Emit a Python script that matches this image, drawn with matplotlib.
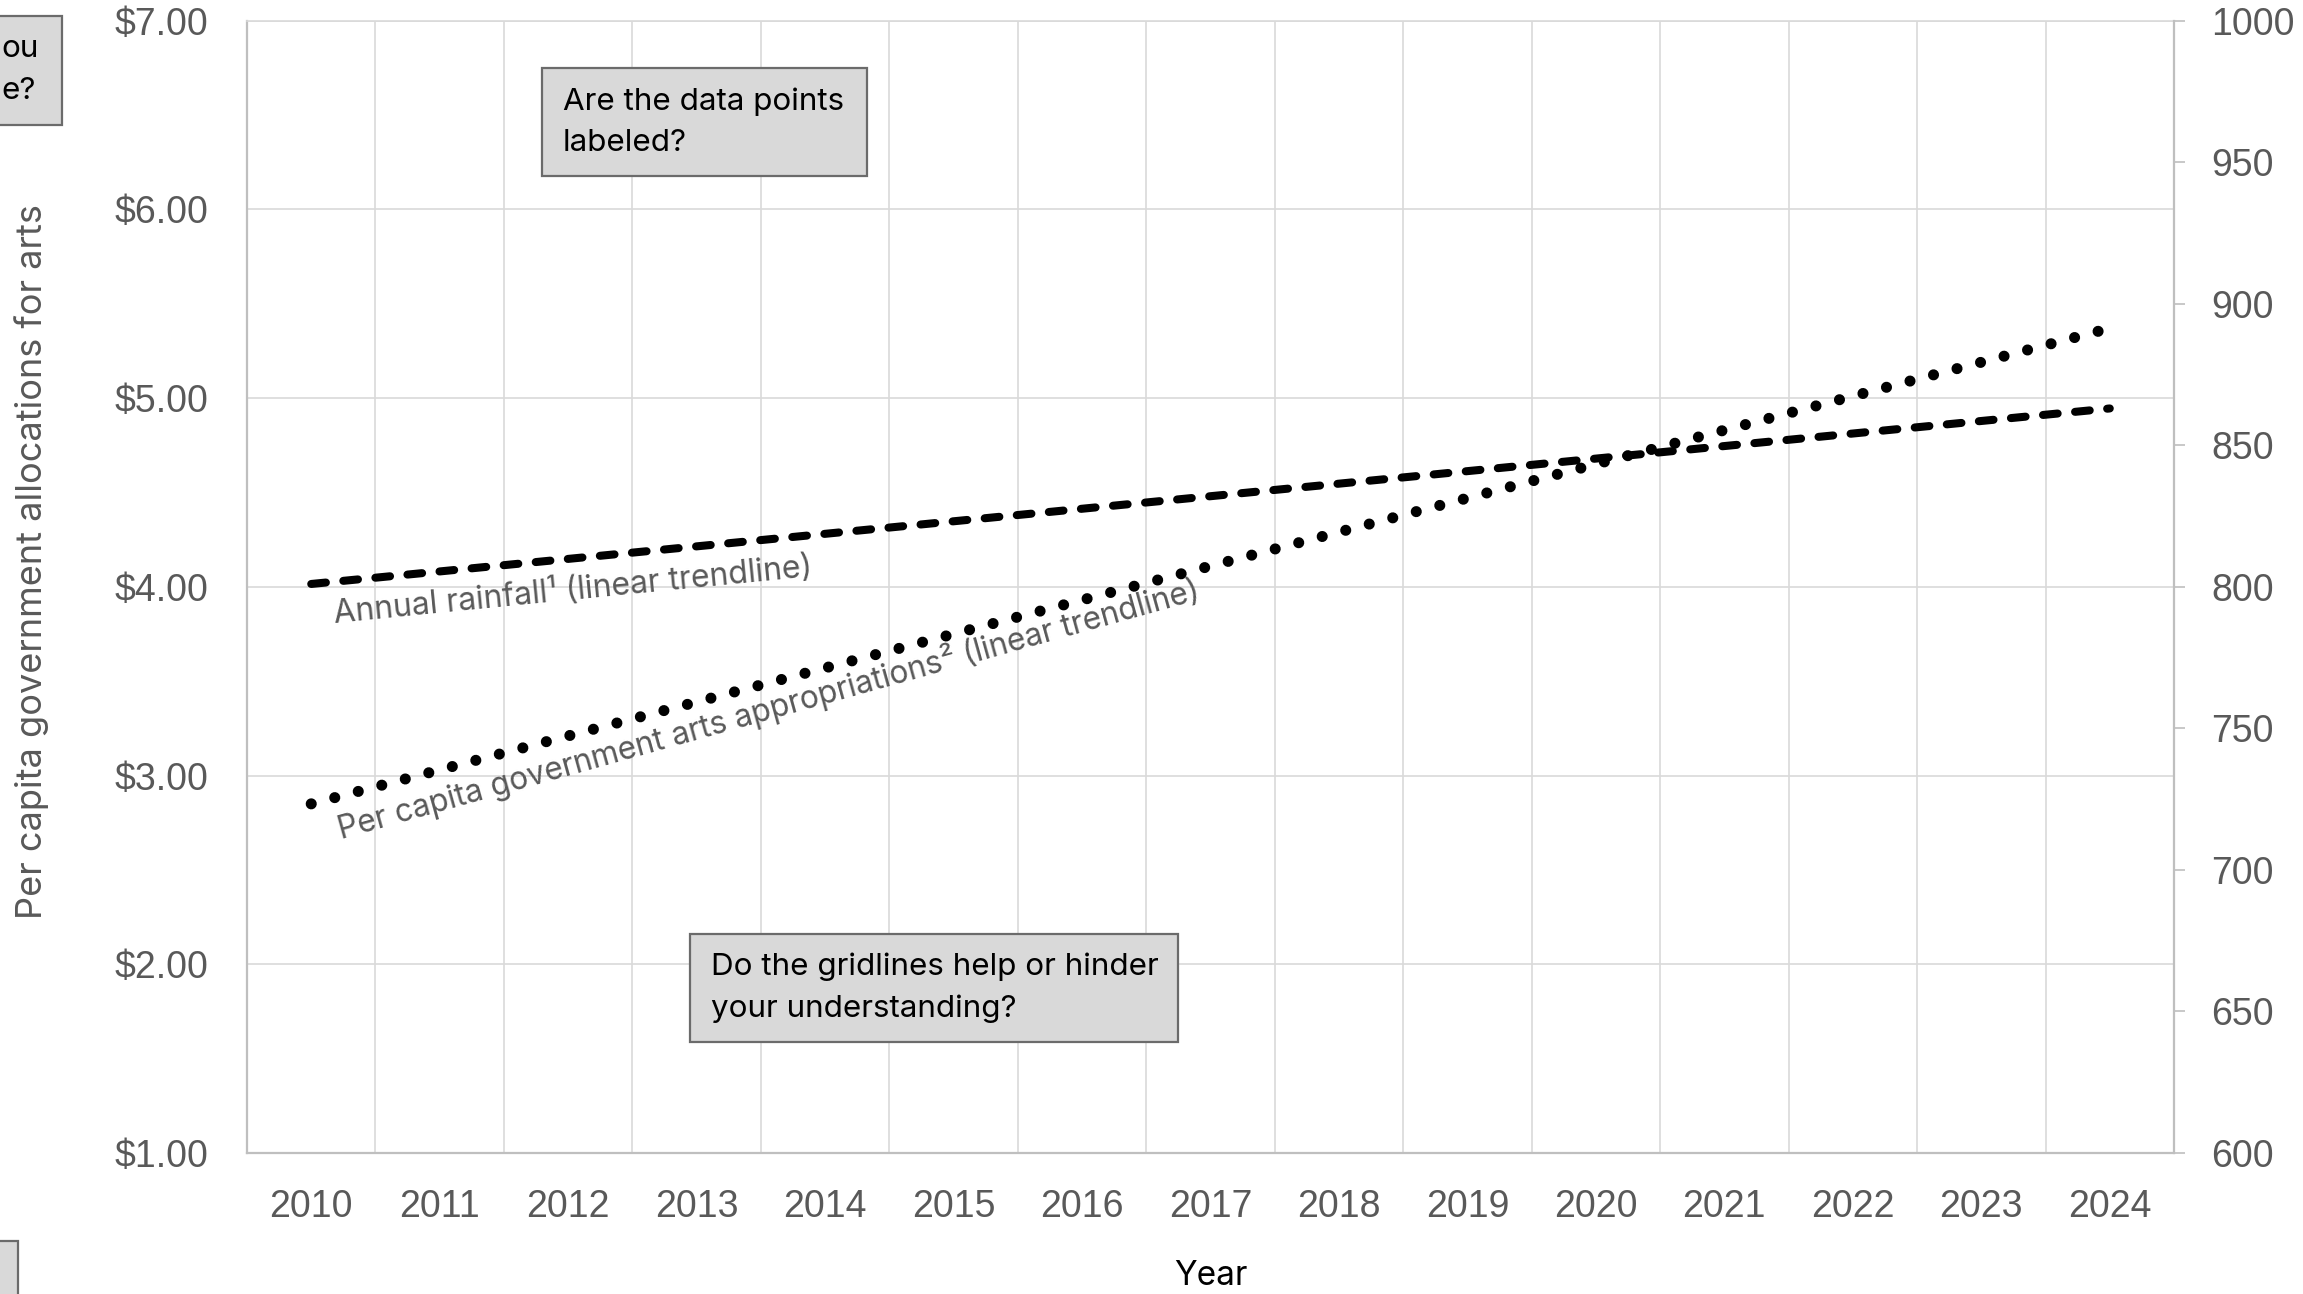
import matplotlib
matplotlib.use("Agg")
import matplotlib.pyplot as plt
from matplotlib.patches import Rectangle
import numpy as np

# data (trendline end points only)
years = ["2010", "2011", "2012", "2013", "2014", "2015", "2016", "2017",
         "2018", "2019", "2020", "2021", "2022", "2023", "2024"]
trend_years = ["2010", "2024"]
arts_trend = [2.85, 5.37]        # $ per capita, left axis
rain_trend = [801, 863]          # annual rainfall, right axis
left_ticks = [1, 2, 3, 4, 5, 6, 7]
right_ticks = [600, 650, 700, 750, 800, 850, 900, 950, 1000]

GRID = "#d9d9d9"
SPINE = "#bfbfbf"
TXT = "#595959"
TICKFONT = ["Liberation Sans", "DejaVu Sans"]
BODYFONT = ["Inter", "DejaVu Sans"]

plt.rcParams["lines.scale_dashes"] = False

fig = plt.figure(figsize=(23.03, 12.94), dpi=100)
ax = fig.add_axes([0.10725, 0.10896, 0.83674, 0.87512])
ax2 = ax.twinx()

xs = [years.index(y) for y in trend_years]

ax.set_xlim(-0.5, len(years) - 0.5)
ax.set_ylim(1, 7)
ax2.set_ylim(600, 1000)

# gridlines
ax.set_yticks(left_ticks)
ax.set_yticklabels([f"${v:.2f}" for v in left_ticks])
ax.set_xticks(range(len(years)))
ax.set_xticklabels(years)
ax.set_xticks(np.arange(-0.5, len(years), 1), minor=True)
ax.grid(True, axis="y", which="major", color=GRID, lw=1.2)
ax.grid(True, axis="x", which="minor", color=GRID, lw=1.2)
ax.grid(False, axis="x", which="major")
ax.set_axisbelow(True)

ax.tick_params(axis="y", length=0, pad=28, labelsize=27, labelcolor=TXT)
ax.tick_params(axis="x", which="major", length=0, pad=26, labelsize=27, labelcolor=TXT)
ax.tick_params(axis="x", which="minor", length=0)
for lab in ax.get_xticklabels() + ax.get_yticklabels():
    lab.set_family(TICKFONT)

for s in ["left", "bottom"]:
    ax.spines[s].set_color(SPINE)
    ax.spines[s].set_linewidth(1.6)
ax.spines["top"].set_color(GRID)
ax.spines["top"].set_linewidth(1.2)
ax.spines["right"].set_visible(False)

ax2.set_yticks(right_ticks)
ax2.tick_params(axis="y", length=8, width=1.2, color=SPINE, pad=19,
                labelsize=27, labelcolor=TXT)
for lab in ax2.get_yticklabels():
    lab.set_family(TICKFONT)
for s in ["left", "top", "bottom"]:
    ax2.spines[s].set_visible(False)
ax2.spines["right"].set_color(SPINE)
ax2.spines["right"].set_linewidth(1.6)

# trendlines
ax.plot(xs, arts_trend, color="black", lw=8, linestyle=(0, (0.01, 17.5)),
        dash_capstyle="round", zorder=3)
ax2.plot(xs, rain_trend, color="black", lw=5.8, linestyle=(0, (10.6, 12.6)),
         dash_capstyle="round", zorder=3)

ax.text(0.18, 3.81, "Annual rainfall\u00b9 (linear trendline)", color=TXT,
        fontsize=23, family=BODYFONT, rotation=5.6, rotation_mode="anchor",
        ha="left", va="baseline")
ax.text(0.23, 2.66, "Per capita government arts appropriations\u00b2 (linear trendline)",
        color=TXT, fontsize=22.7, family=BODYFONT, rotation=15.6,
        rotation_mode="anchor", ha="left", va="baseline")

ax.set_xlabel("Year", fontsize=24, family=BODYFONT, color="black", va="center")
ax.xaxis.set_label_coords(0.5, -0.1090)
ax.set_ylabel("Per capita government allocations for arts", fontsize=26,
              family=BODYFONT, color=TXT, va="center")
ax.yaxis.set_label_coords(-0.1116, 0.522)

# question boxes (figure pixel layout)
W, H = 2303, 1294


def box(x0, y0, x1, y1, text=None, pad=21):
    fig.patches.append(Rectangle((x0 / W, 1 - y1 / H), (x1 - x0) / W, (y1 - y0) / H,
                                 transform=fig.transFigure, facecolor="#d9d9d9",
                                 edgecolor="#6b6b6b", lw=1.6, zorder=5))
    if text:
        fig.text((x0 + pad) / W, 1 - (y0 + y1) / 2 / H, text, fontsize=22.6,
                 family=BODYFONT, color="black", ha="left", va="center",
                 linespacing=1.6, zorder=6)


box(542, 68, 867, 176, "Are the data points\nlabeled?")
box(690, 934, 1178, 1042, "Do the gridlines help or hinder\nyour understanding?")
box(-40, 16, 62, 125)
fig.text(1 / W, 1 - 70 / H, "ou\ne?", fontsize=22.6, family=BODYFONT, color="black",
         ha="left", va="center", linespacing=1.6, zorder=6)
box(-40, 1241, 18, 1310)

fig.savefig("out.png", dpi=100)
